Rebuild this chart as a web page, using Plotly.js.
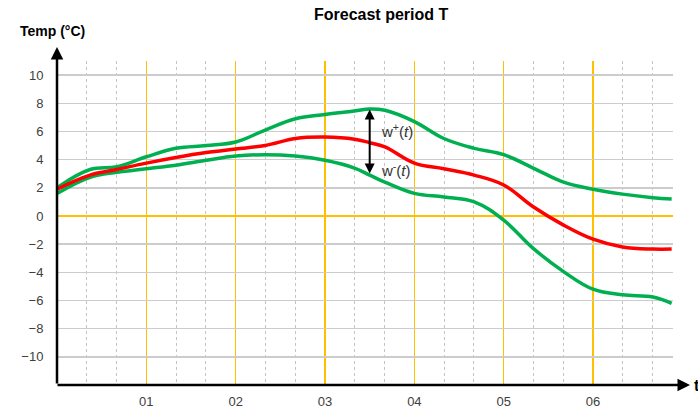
<!DOCTYPE html>
<html><head><meta charset="utf-8">
<script src="https://cdn.plot.ly/plotly-3.0.1.min.js"></script>
<style>html,body{margin:0;padding:0;background:#fff}#c{width:698px;height:408px}</style>
</head><body><div id="c"></div>
<script>
const tHours = [0, 0.37, 0.67, 1, 1.33, 1.67, 2, 2.33, 2.67, 3, 3.33, 3.5, 3.67, 4, 4.33, 4.67, 5, 5.33, 5.67, 6, 6.33, 6.67, 6.88];
const upperBound = [2.0, 3.3, 3.5, 4.2, 4.8, 5.0, 5.25, 6.1, 6.9, 7.2, 7.45, 7.6, 7.5, 6.7, 5.5, 4.8, 4.35, 3.4, 2.4, 1.9, 1.55, 1.3, 1.2];
const forecast = [1.9, 2.9, 3.3, 3.75, 4.15, 4.5, 4.75, 5.0, 5.5, 5.6, 5.45, 5.2, 4.9, 3.75, 3.35, 2.9, 2.2, 0.65, -0.65, -1.65, -2.2, -2.35, -2.35];
const lowerBound = [1.6, 2.75, 3.1, 3.35, 3.6, 3.95, 4.25, 4.35, 4.25, 3.95, 3.4, 2.9, 2.4, 1.6, 1.35, 1.0, -0.3, -2.3, -3.95, -5.2, -5.6, -5.75, -6.2];
const xTickVals = [1, 2, 3, 4, 5, 6];
const xTickText = ['01', '02', '03', '04', '05', '06'];
const yTickVals = [-10, -8, -6, -4, -2, 0, 2, 4, 6, 8, 10];
const arrowX = 3.5, arrowTop = 7.55, arrowBottom = 2.9;

const FONT = 'Liberation Sans, Arial, sans-serif';
const GREEN = '#00b050', RED = '#ff0000', ORANGE = '#ffc000';

const traces = [
  {x: tHours, y: upperBound, mode: 'lines', line: {color: GREEN, width: 3.5, shape: 'spline', smoothing: 1.1}, hoverinfo: 'skip'},
  {x: tHours, y: lowerBound, mode: 'lines', line: {color: GREEN, width: 3.5, shape: 'spline', smoothing: 1.1}, hoverinfo: 'skip'},
  {x: tHours, y: forecast, mode: 'lines', line: {color: RED, width: 3.5, shape: 'spline', smoothing: 1.1}, hoverinfo: 'skip'}
];

const layout = {
  width: 698, height: 408,
  margin: {l: 57, r: 25, t: 61, b: 23},
  paper_bgcolor: '#fff', plot_bgcolor: '#fff',
  showlegend: false,
  font: {family: FONT, color: '#404040', size: 13},
  xaxis: {
    range: [0, 6.895], tickvals: xTickVals, ticktext: xTickText,
    showgrid: true, gridcolor: ORANGE, gridwidth: 1.5,
    minor: {dtick: 1/3, tick0: 0, showgrid: true, gridcolor: '#c4c4c4', griddash: 'dot', gridwidth: 1},
    zeroline: false, showline: false,
    ticks: 'outside', ticklen: 4, tickcolor: 'rgba(0,0,0,0)',
    tickfont: {size: 13, color: '#404040'}, fixedrange: true
  },
  yaxis: {
    range: [-12, 11], tickvals: yTickVals,
    showgrid: true, gridcolor: '#cccccc', gridwidth: 1.5,
    zeroline: true, zerolinecolor: ORANGE, zerolinewidth: 1.5,
    showline: false,
    ticks: 'outside', ticklen: 10, tickcolor: 'rgba(0,0,0,0)',
    tickfont: {size: 13, color: '#404040'}, fixedrange: true
  },
  annotations: [
    {xref: 'paper', yref: 'paper', x: 0, y: (385 - 47) / 324, ax: 0, ay: 338,
     text: '', showarrow: true, arrowhead: 2, arrowsize: 1, arrowwidth: 2.5, arrowcolor: '#000'},
    {xref: 'paper', yref: 'paper', x: (690 - 57) / 616, y: 0, ax: -634, ay: 0,
     text: '', showarrow: true, arrowhead: 2, arrowsize: 1, arrowwidth: 2.5, arrowcolor: '#000'},
    {xref: 'x', yref: 'y', x: arrowX, y: arrowTop, axref: 'x', ayref: 'y', ax: arrowX, ay: arrowBottom,
     text: '', showarrow: true, arrowhead: 2, startarrowhead: 2, arrowside: 'end+start', arrowsize: 1, arrowwidth: 2, arrowcolor: '#000'},
    {xref: 'x', yref: 'y', x: arrowX + 0.1, y: 6.1, xanchor: 'left', yanchor: 'middle', showarrow: false,
     text: 'w<sup>+</sup>(<i>t</i>)', font: {size: 15, color: '#333'}},
    {xref: 'x', yref: 'y', x: arrowX + 0.1, y: 3.3, xanchor: 'left', yanchor: 'middle', showarrow: false,
     text: 'w<sup>-</sup>(<i>t</i>)', font: {size: 15, color: '#333'}},
    {xref: 'paper', yref: 'paper', x: (381 - 57) / 616, y: (385 - 14) / 324, xanchor: 'center', yanchor: 'middle', showarrow: false,
     text: '<b>Forecast period T</b>', font: {size: 16, color: '#000'}},
    {xref: 'paper', yref: 'paper', x: (18 - 57) / 616, y: (385 - 31) / 324, xanchor: 'left', yanchor: 'middle', showarrow: false,
     text: '<b>Temp (°C)</b>', font: {size: 14, color: '#000'}},
    {xref: 'paper', yref: 'paper', x: (692 - 57) / 616, y: 0, xanchor: 'left', yanchor: 'middle', showarrow: false,
     text: '<b>t</b>', font: {size: 16, color: '#000'}}
  ]
};

Plotly.newPlot('c', traces, layout, {displayModeBar: false, staticPlot: true});
</script></body></html>
